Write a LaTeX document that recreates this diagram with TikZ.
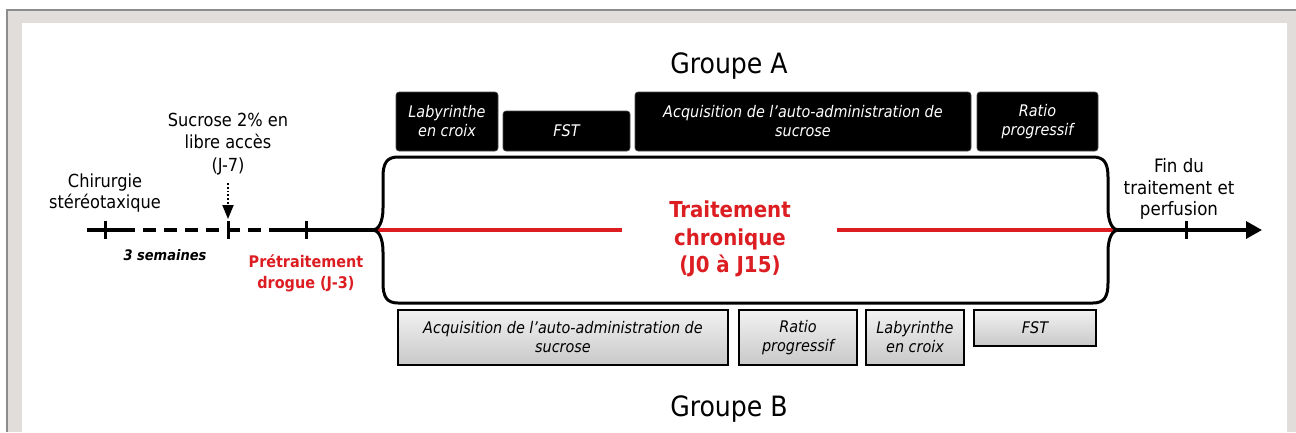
\documentclass[tikz,border=0pt]{standalone}
\usepackage{fontspec}
\setmainfont{DejaVu Sans Condensed}
\usetikzlibrary{arrows.meta}
\definecolor{framegrey}{RGB}{224,221,218}
\definecolor{frameline}{RGB}{140,140,140}
\definecolor{tred}{RGB}{220,30,35}
\definecolor{boxtop}{RGB}{242,242,242}
\definecolor{boxbot}{RGB}{200,200,200}
\tikzset{
  blackbox/.style={fill=black, draw=black!70, line width=0.6pt, rounded corners=3pt, text=white,
    font=\fontsize{16}{19}\selectfont\itshape, align=center, inner sep=0pt},
  greybox/.style={top color=boxtop, bottom color=boxbot, draw=black, line width=1.6pt,
    font=\fontsize{16}{19}\selectfont\itshape, align=center, inner sep=0pt},
  plaintext/.style={font=\fontsize{18}{21.5}\selectfont, align=center, inner sep=0pt},
  redtext/.style={text=tred, font=\fontsize{16}{21}\selectfont\bfseries, align=center, inner sep=0pt},
  tickmark/.style={line width=3pt},
  timeline/.style={line width=3.3pt},
}
\begin{document}
\begin{tikzpicture}[x=1pt,y=-1pt]
\useasboundingbox (0,0) rectangle (1296,432);
% frame
\fill[framegrey] (7,10) rectangle (1296,432);
\draw[frameline, line width=2pt] (7,432) -- (7,10) -- (1296,10);
\fill[white] (22,23) rectangle (1287,432);

% coordinates of timeline
\coordinate (start) at (87,230);
\coordinate (d1) at (122,230);
\coordinate (d2) at (277,230);
\coordinate (ltip) at (373,230);
\coordinate (rtip) at (1118,230);
\coordinate (rend) at (1262,230);
\coordinate (redA) at (622,230);
\coordinate (redB) at (837,230);

% timeline
\draw[timeline] (start) -- (d1);
\draw[timeline, dash pattern=on 13pt off 8pt] (d1) -- (d2);
\draw[timeline] (d2) -- (ltip);
\draw[timeline, -{Triangle[length=16pt,width=17pt]}] (rtip) -- (rend);
\draw[tred, line width=3.5pt] (ltip) -- (redA);
\draw[tred, line width=3.5pt] (redB) -- (rtip);

% ticks
\foreach \x in {105,228,306,1186} \draw[tickmark] (\x,221) -- (\x,239);

% brace shape
\draw[line width=3pt, line join=round]
  (398,157) .. controls (387,157) and (383,163) .. (383,177) -- (383,208)
  .. controls (383,223) and (378,230) .. (ltip)
  .. controls (378,230) and (383,237) .. (383,252) -- (383,283)
  .. controls (383,297) and (387,303) .. (398,303) -- (1093,303)
  .. controls (1104,303) and (1108,297) .. (1108,283) -- (1108,252)
  .. controls (1108,237) and (1113,230) .. (rtip)
  .. controls (1113,230) and (1108,223) .. (1108,208) -- (1108,177)
  .. controls (1108,163) and (1104,157) .. (1093,157) -- cycle;

% texts
\node[font=\fontsize{28}{34}\selectfont, anchor=base, inner sep=0pt] (ga) at (729,73) {Groupe A};
\node[font=\fontsize{28}{34}\selectfont, anchor=base, inner sep=0pt] (gb) at (729,416) {Groupe B};

\node[plaintext, font=\fontsize{18}{21}\selectfont] (chir) at (105,193) {Chirurgie\\stéréotaxique};
\node[plaintext, font=\fontsize{18}{22.5}\selectfont] (sucr) at (228,144) {Sucrose 2\% en\\libre accès\\(J-7)};
\coordinate (arrs) at (228,183);
\coordinate (arre) at (228,219);
\draw[dotted, line width=1.8pt, -{Triangle[length=14pt,width=11pt]}] (arrs) -- (arre);
\node[font=\fontsize{14.5}{17}\selectfont\bfseries\itshape, anchor=base, inner sep=0pt] (sem) at (165,260) {3 semaines};
\node[redtext] (pret) at (306,273) {Prétraitement\\drogue (J-3)};
\node[redtext, font=\fontsize{22}{27.5}\selectfont\bfseries] (trait) at (730,239) {Traitement\\chronique\\(J0 à J15)};
\node[plaintext, font=\fontsize{18.5}{21.5}\selectfont] (fin) at (1179,189) {Fin du\\traitement et\\perfusion};

% top boxes (Groupe A)
\node[blackbox, minimum width=102pt, minimum height=59pt] (a1) at (447,121.5) {Labyrinthe\\en croix};
\node[blackbox, minimum width=127pt, minimum height=40pt] (a2) at (566.5,131) {FST};
\node[blackbox, minimum width=336pt, minimum height=59pt] (a3) at (803,121.5) {Acquisition de l’auto-administration de\\sucrose};
\node[blackbox, minimum width=121pt, minimum height=59pt] (a4) at (1037.5,121.5) {Ratio\\progressif};

% bottom boxes (Groupe B)
\node[greybox, minimum width=330pt, minimum height=55pt] (b1) at (563,337.5) {Acquisition de l’auto-administration de\\sucrose};
\node[greybox, minimum width=118pt, minimum height=55pt] (b2) at (798,337.5) {Ratio\\progressif};
\node[greybox, minimum width=98pt, minimum height=55pt] (b3) at (915,337.5) {Labyrinthe\\en croix};
\node[greybox, minimum width=122pt, minimum height=36pt] (b4) at (1035,328) {FST};
\end{tikzpicture}
\end{document}
